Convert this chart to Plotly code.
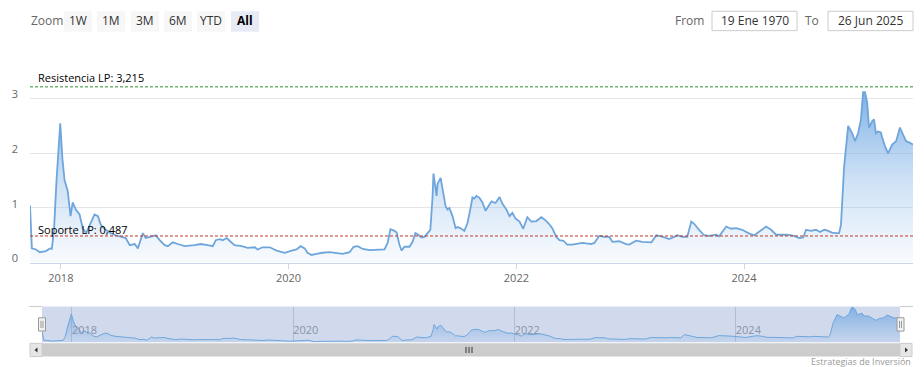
import plotly.graph_objects as go

W, H = 924, 367
PAGE_H = 378  # rendered page height; captured into the 367-pixel frame

# ---------------- data ----------------
dates = [
    "2017-09-24", "2017-09-30", "2017-10-13", "2017-10-26", "2017-11-14", "2017-11-27", "2017-12-03",
    "2017-12-10", "2017-12-18", "2017-12-30", "2018-01-06", "2018-01-13", "2018-01-23", "2018-02-01",
    "2018-02-08", "2018-02-18", "2018-03-02", "2018-03-12", "2018-03-23", "2018-04-03", "2018-04-19",
    "2018-04-30", "2018-05-09", "2018-05-25", "2018-06-10", "2018-06-26", "2018-07-12", "2018-07-28",
    "2018-08-10", "2018-08-26", "2018-09-05", "2018-09-21", "2018-09-30", "2018-10-16", "2018-11-01",
    "2018-11-14", "2018-11-30", "2018-12-10", "2018-12-26", "2019-01-11", "2019-02-02", "2019-03-06",
    "2019-03-26", "2019-04-17", "2019-05-03", "2019-05-13", "2019-05-25", "2019-06-04", "2019-06-17",
    "2019-06-26", "2019-07-12", "2019-08-04", "2019-08-23", "2019-09-15", "2019-09-24", "2019-10-10",
    "2019-11-02", "2019-11-24", "2019-12-20", "2020-01-11", "2020-01-27", "2020-02-09", "2020-02-22",
    "2020-03-02", "2020-03-15", "2020-03-31", "2020-04-19", "2020-05-12", "2020-06-03", "2020-06-23",
    "2020-07-15", "2020-07-28", "2020-08-10", "2020-08-26", "2020-09-17", "2020-10-09", "2020-11-04",
    "2020-11-14", "2020-11-23", "2020-12-06", "2020-12-13", "2020-12-22", "2020-12-29", "2021-01-07",
    "2021-01-23", "2021-02-02", "2021-02-11", "2021-02-18", "2021-03-03", "2021-03-12", "2021-03-22",
    "2021-03-31", "2021-04-07", "2021-04-10", "2021-04-20", "2021-04-23", "2021-05-03", "2021-05-09",
    "2021-05-19", "2021-05-25", "2021-05-31", "2021-06-10", "2021-06-20", "2021-06-26", "2021-07-09",
    "2021-07-18", "2021-07-28", "2021-08-07", "2021-08-13", "2021-08-19", "2021-08-26", "2021-09-04",
    "2021-09-14", "2021-09-24", "2021-10-03", "2021-10-13", "2021-10-26", "2021-11-08", "2021-11-17",
    "2021-11-30", "2021-12-10", "2021-12-19", "2021-12-29", "2022-01-11", "2022-01-23", "2022-02-05",
    "2022-02-18", "2022-03-06", "2022-03-22", "2022-04-01", "2022-04-14", "2022-04-26", "2022-05-09",
    "2022-05-19", "2022-06-01", "2022-06-13", "2022-06-29", "2022-07-15", "2022-07-31", "2022-08-13",
    "2022-08-29", "2022-09-08", "2022-09-24", "2022-10-10", "2022-10-26", "2022-11-05", "2022-11-27",
    "2022-12-19", "2022-12-29", "2023-01-20", "2023-02-09", "2023-03-10", "2023-03-26", "2023-04-11",
    "2023-04-23", "2023-05-06", "2023-05-22", "2023-06-01", "2023-06-17", "2023-07-03", "2023-07-16",
    "2023-07-25", "2023-08-10", "2023-08-26", "2023-09-11", "2023-10-04", "2023-10-13", "2023-11-05",
    "2023-11-21", "2023-12-07", "2023-12-26", "2024-01-18", "2024-02-03", "2024-02-25", "2024-03-12",
    "2024-03-28", "2024-04-13", "2024-05-02", "2024-05-18", "2024-06-10", "2024-06-26", "2024-07-09",
    "2024-07-18", "2024-08-03", "2024-08-19", "2024-09-01", "2024-09-14", "2024-09-23", "2024-10-09",
    "2024-10-22", "2024-11-01", "2024-11-07", "2024-11-17", "2024-11-30", "2024-12-13", "2024-12-22",
    "2025-01-01", "2025-01-10", "2025-01-17", "2025-01-23", "2025-01-30", "2025-02-05", "2025-02-15",
    "2025-02-21", "2025-02-27", "2025-03-06", "2025-03-15", "2025-03-18", "2025-03-28", "2025-04-07",
    "2025-04-20", "2025-05-03", "2025-05-15", "2025-05-25", "2025-06-04", "2025-06-13", "2025-06-26",
]
values = [
    1.05, 0.26, 0.24, 0.19, 0.21, 0.26, 0.25,
    0.60, 1.50, 2.55, 1.90, 1.50, 1.31, 0.85,
    1.10, 0.97, 0.88, 0.63, 0.54, 0.69, 0.88,
    0.85, 0.69, 0.60, 0.54, 0.50, 0.48, 0.45,
    0.32, 0.34, 0.26, 0.54, 0.45, 0.48, 0.50,
    0.41, 0.32, 0.30, 0.37, 0.34, 0.30, 0.32,
    0.34, 0.32, 0.30, 0.41, 0.43, 0.41, 0.45,
    0.40, 0.32, 0.30, 0.27, 0.28, 0.24, 0.28,
    0.28, 0.22, 0.18, 0.22, 0.24, 0.30, 0.26,
    0.18, 0.14, 0.16, 0.18, 0.19, 0.18, 0.16,
    0.19, 0.29, 0.30, 0.25, 0.23, 0.24, 0.24,
    0.36, 0.61, 0.58, 0.55, 0.32, 0.22, 0.29,
    0.29, 0.38, 0.54, 0.52, 0.46, 0.47, 0.53,
    0.60, 1.19, 1.63, 1.22, 1.44, 1.55, 1.38,
    1.03, 0.97, 1.00, 0.85, 0.63, 0.65, 0.62,
    0.58, 0.72, 1.00, 1.19, 1.17, 1.22, 1.19,
    1.10, 0.95, 1.03, 1.12, 1.09, 1.20, 1.08,
    0.97, 0.85, 0.91, 0.81, 0.75, 0.62, 0.83,
    0.75, 0.76, 0.83, 0.79, 0.72, 0.63, 0.47,
    0.41, 0.40, 0.33, 0.33, 0.35, 0.36, 0.35,
    0.34, 0.36, 0.49, 0.47, 0.47, 0.38, 0.39,
    0.34, 0.33, 0.40, 0.38, 0.37, 0.50, 0.48,
    0.46, 0.43, 0.47, 0.50, 0.47, 0.47, 0.75,
    0.71, 0.60, 0.50, 0.49, 0.51, 0.48, 0.66,
    0.62, 0.63, 0.60, 0.53, 0.50, 0.60, 0.66,
    0.60, 0.51, 0.51, 0.51, 0.49, 0.45, 0.46,
    0.60, 0.58, 0.60, 0.56, 0.60, 0.59, 0.55,
    0.54, 0.54, 0.69, 1.75, 2.50, 2.37, 2.22,
    2.37, 2.62, 3.12, 3.12, 2.93, 2.47, 2.59,
    2.62, 2.37, 2.40, 2.38, 2.31, 2.13, 2.00,
    2.16, 2.22, 2.47, 2.34, 2.22, 2.20, 2.16,
]

RESISTENCIA = 3.215
SOPORTE = 0.487
resist_label = "Resistencia LP: 3,215"
support_label = "Soporte LP: 0,487"

year_tickvals = ["2018-01-01", "2020-01-01", "2022-01-01", "2024-01-01"]
year_ticktext = ["2018", "2020", "2022", "2024"]
y_tickvals = [0, 1, 2, 3, 4]
y_ticktext = ["0", "1", "2", "3", ""]

zoom_buttons = ["1W", "1M", "3M", "6M", "YTD", "All"]
selected_button = "All"
from_text = "19 Ene 1970"
to_text = "26 Jun 2025"
credit_text = "Estrategias de Inversión"

# ---------------- helpers ----------------
def px(x):
    return x / W

def py(y):
    return 1 - y / H

FONT = "Open Sans, DejaVu Sans, sans-serif"
LINE_COLOR = "#6ea6dc"

fig = go.Figure()

fig.add_trace(go.Scatter(
    x=dates, y=values, mode="lines",
    line=dict(color=LINE_COLOR, width=1.8),
    fill="tozeroy",
    fillgradient=dict(type="vertical", start=0, stop=3.12,
                      colorscale=[[0, "rgba(124,175,230,0.04)"], [0.5, "rgba(124,175,230,0.38)"],
                                  [1, "rgba(110,166,226,0.88)"]]),
    hoverinfo="skip", showlegend=False, xaxis="x", yaxis="y",
))

fig.add_trace(go.Scatter(
    x=dates, y=values, mode="lines",
    line=dict(color=LINE_COLOR, width=1),
    fill="tozeroy",
    fillgradient=dict(type="vertical", start=0, stop=3.12,
                      colorscale=[[0, "rgba(124,175,230,0.1)"], [1, "rgba(110,166,226,0.8)"]]),
    hoverinfo="skip", showlegend=False, xaxis="x2", yaxis="y2",
))

shapes = []
annotations = []

# navigator mask background
shapes.append(dict(type="rect", xref="paper", yref="paper", layer="below",
                   x0=px(42), x1=px(900), y0=py(335), y1=py(300),
                   fillcolor="rgba(102,133,194,0.3)", line=dict(width=0)))
# navigator outline pieces
for x0, x1 in [(29, 42), (900, 913)]:
    shapes.append(dict(type="line", xref="paper", yref="paper",
                       x0=px(x0), x1=px(x1), y0=py(300), y1=py(300),
                       line=dict(color="#cccccc", width=1)))

# plot lines
shapes.append(dict(type="line", xref="paper", yref="y", x0=px(30), x1=px(913),
                   y0=RESISTENCIA, y1=RESISTENCIA,
                   line=dict(color="#2f8f2f", width=1, dash="3px,2px")))
shapes.append(dict(type="line", xref="paper", yref="y", x0=px(30), x1=px(913),
                   y0=SOPORTE, y1=SOPORTE,
                   line=dict(color="#c0392b", width=1, dash="3px,2px")))
annotations.append(dict(xref="paper", yref="y", x=px(36), y=RESISTENCIA, xanchor="left",
                        yanchor="bottom", yshift=0, text=resist_label, showarrow=False,
                        font=dict(family=FONT, size=11, color="#000000")))
annotations.append(dict(xref="paper", yref="y", x=px(36), y=SOPORTE, xanchor="left",
                        yanchor="bottom", yshift=-3, text=support_label, showarrow=False,
                        font=dict(family=FONT, size=11, color="#000000")))

# range selector
annotations.append(dict(xref="paper", yref="paper", x=px(29), y=py(20), xanchor="left",
                        yanchor="middle", text="Zoom", showarrow=False,
                        font=dict(family=FONT, size=12, color="#666666")))
btn_x = [64, 97, 131, 164, 197, 231]
for bx, label in zip(btn_x, zoom_buttons):
    sel = label == selected_button
    shapes.append(dict(type="rect", xref="paper", yref="paper",
                       x0=px(bx), x1=px(bx + 28), y0=py(31), y1=py(11),
                       fillcolor="#e6ebf5" if sel else "#f7f7f7", line=dict(width=0)))
    annotations.append(dict(xref="paper", yref="paper", x=px(bx + 14), y=py(20),
                            xanchor="center", yanchor="middle",
                            text=f"<b>{label}</b>" if sel else label, showarrow=False,
                            font=dict(family=FONT, size=12, color="#000000" if sel else "#333333")))

# date inputs
annotations.append(dict(xref="paper", yref="paper", x=px(706), y=py(20), xanchor="right",
                        yanchor="middle", text="From", showarrow=False,
                        font=dict(family=FONT, size=12, color="#666666")))
annotations.append(dict(xref="paper", yref="paper", x=px(821), y=py(20), xanchor="right",
                        yanchor="middle", text="To", showarrow=False,
                        font=dict(family=FONT, size=12, color="#666666")))
for x0, x1, txt in [(712, 797, from_text), (828, 913, to_text)]:
    shapes.append(dict(type="rect", xref="paper", yref="paper",
                       x0=px(x0), x1=px(x1), y0=py(30), y1=py(11),
                       fillcolor="#ffffff", line=dict(color="#cccccc", width=1)))
    annotations.append(dict(xref="paper", yref="paper", x=px((x0 + x1) / 2), y=py(20),
                            xanchor="center", yanchor="middle", text=txt, showarrow=False,
                            font=dict(family=FONT, size=12, color="#333333")))

# navigator handles
for hx in [38.5, 897]:
    shapes.append(dict(type="rect", xref="paper", yref="paper",
                       x0=px(hx), x1=px(hx + 7), y0=py(324), y1=py(311),
                       fillcolor="#f2f2f2", line=dict(color="#999999", width=1)))
    for gx in [hx + 2.5, hx + 4.5]:
        shapes.append(dict(type="line", xref="paper", yref="paper",
                           x0=px(gx), x1=px(gx), y0=py(321), y1=py(314),
                           line=dict(color="#999999", width=1)))

# scrollbar
shapes.append(dict(type="rect", xref="paper", yref="paper",
                   x0=px(30), x1=px(912), y0=py(349), y1=py(336),
                   fillcolor="#cccccc", line=dict(width=0)))
for x0, x1 in [(30, 42), (900, 912)]:
    shapes.append(dict(type="rect", xref="paper", yref="paper",
                       x0=px(x0), x1=px(x1), y0=py(349), y1=py(336),
                       fillcolor="#e6e6e6", line=dict(color="#cccccc", width=1)))
# arrows
def tri(points):
    path = "M " + " L ".join(f"{px(a):.5f},{py(b):.5f}" for a, b in points) + " Z"
    return dict(type="path", xref="paper", yref="paper", path=path,
                fillcolor="#333333", line=dict(width=0))
shapes.append(tri([(37.5, 340), (37.5, 345), (34.5, 342.5)]))
shapes.append(tri([(905, 340), (905, 345), (908, 342.5)]))
for gx in [466, 469, 472]:
    shapes.append(dict(type="line", xref="paper", yref="paper",
                       x0=px(gx), x1=px(gx), y0=py(345.5), y1=py(339.5),
                       line=dict(color="#333333", width=1)))

# credits
annotations.append(dict(xref="paper", yref="paper", x=px(913), y=py(354), xanchor="right",
                        yanchor="middle", text=credit_text, showarrow=False,
                        font=dict(family=FONT, size=9, color="#999999")))

fig.update_layout(
    width=W, height=PAGE_H, autosize=False,
    margin=dict(l=0, r=0, t=0, b=0),
    paper_bgcolor="#ffffff", plot_bgcolor="rgba(0,0,0,0)",
    showlegend=False,
    shapes=shapes, annotations=annotations,
    xaxis=dict(domain=[px(30), px(913)], anchor="y", type="date",
               range=[dates[0], dates[-1]],
               tickvals=year_tickvals, ticktext=year_ticktext,
               showgrid=False, showline=True, linecolor="#ccd6eb", linewidth=1,
               ticks="outside", ticklen=5, tickcolor="#ccd6eb",
               tickfont=dict(family=FONT, size=11, color="#666666"),
               zeroline=False, fixedrange=True),
    yaxis=dict(domain=[py(257), py(43)], anchor="x", range=[0, 4],
               tickvals=y_tickvals, ticktext=y_ticktext,
               showgrid=True, gridcolor="#e6e6e6", gridwidth=1,
               zeroline=False, showline=False, ticks="",
               ticklabelstandoff=11, ticklabelshift=-4,
               tickfont=dict(family=FONT, size=11, color="#666666"), fixedrange=True),
    xaxis2=dict(domain=[px(42), px(900)], anchor="y2", type="date",
                range=[dates[0], dates[-1]],
                tickvals=year_tickvals, ticktext=year_ticktext,
                showgrid=True, gridcolor="rgba(140,150,180,0.45)", gridwidth=1,
                ticklabelposition="inside right", ticks="",
                showline=False, zeroline=False,
                tickfont=dict(family=FONT, size=11, color="#8a93a8"), fixedrange=True),
    yaxis2=dict(domain=[py(335), py(300)], anchor="x2", range=[0.08, 3.2],
                showgrid=False, showticklabels=False, zeroline=False, showline=False,
                fixedrange=True),
)

post = (
    "document.documentElement.style.margin='0';document.documentElement.style.padding='0';"
    "document.body.style.margin='0';document.body.style.padding='0';"
)
fig.write_html("out.html", config={"displayModeBar": False, "responsive": False},
               post_script=post)
